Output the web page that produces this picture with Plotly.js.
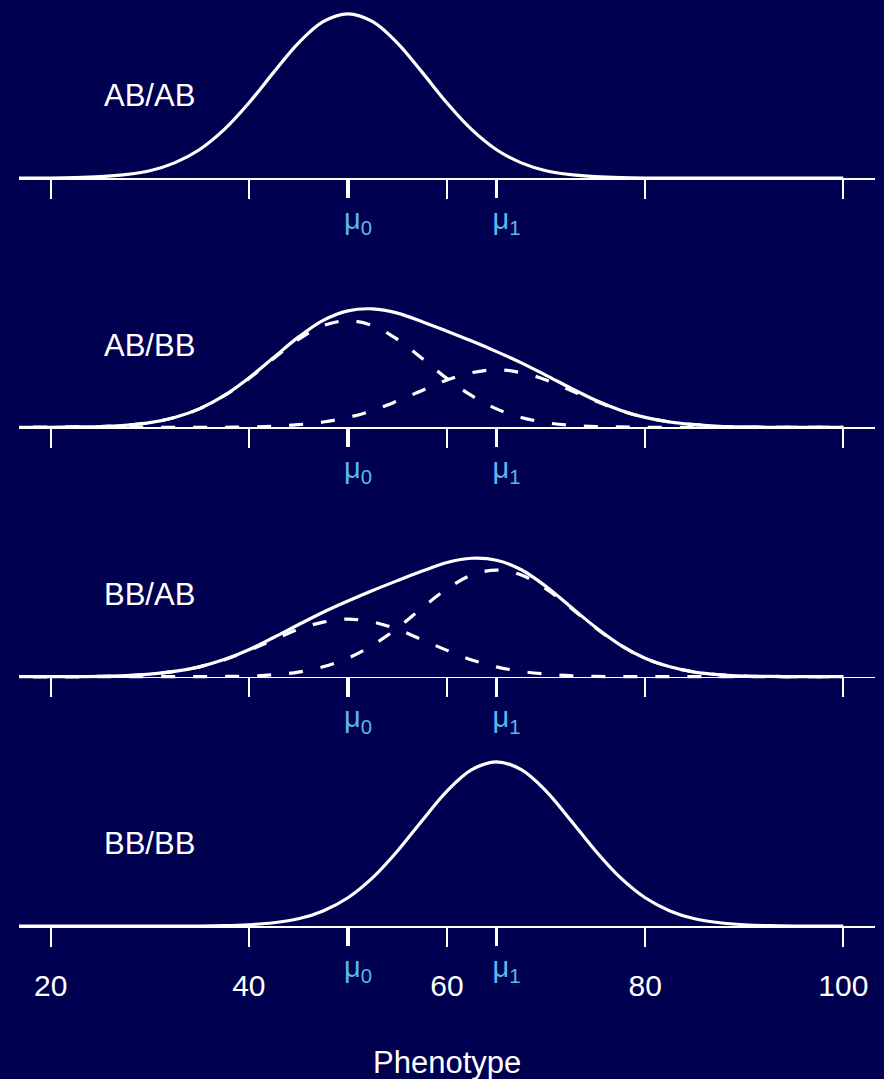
<!DOCTYPE html>
<html><head><meta charset="utf-8">
<script src="https://cdn.plot.ly/plotly-3.0.1.min.js"></script>
<style>html,body{margin:0;padding:0;background:#000050;}</style>
</head><body><div id="chart" style="width:884px;height:1079px;"></div>
<script>
// Phenotype grid (x values)
const phenotype = [15,17.5,20,22.5,25,27.5,30,32.5,35,37.5,40,42.5,45,47.5,50,52.5,55,57.5,60,62.5,65,67.5,70,72.5,75,77.5,80,82.5,85,87.5,90,92.5,95,97.5,100];

// Panel 1: AB/AB density
const densABAB = [0,0,0,0.0001,0.0004,0.0010,0.0022,0.0046,0.0086,0.0147,0.0228,0.0321,0.0410,0.0475,0.0499,0.0475,0.0410,0.0321,0.0228,0.0147,0.0086,0.0046,0.0022,0.0010,0.0004,0.0001,0,0,0,0,0,0,0,0,0];

// Panel 2: AB/BB mixture
const densABBB_mu0 = [0,0,0,0.0001,0.0002,0.0006,0.0014,0.0030,0.0056,0.0096,0.0148,0.0209,0.0267,0.0309,0.0324,0.0309,0.0267,0.0209,0.0148,0.0096,0.0056,0.0030,0.0014,0.0006,0.0002,0.0001,0,0,0,0,0,0,0,0,0];
const densABBB_mu1 = [0,0,0,0,0,0,0,0,0,0,0.0001,0.0003,0.0008,0.0016,0.0030,0.0051,0.0080,0.0112,0.0144,0.0166,0.0175,0.0166,0.0144,0.0112,0.0080,0.0051,0.0030,0.0016,0.0008,0.0003,0.0001,0,0,0,0];
const densABBB = [0,0,0,0.0001,0.0002,0.0006,0.0014,0.0030,0.0056,0.0096,0.0150,0.0212,0.0274,0.0325,0.0354,0.0360,0.0347,0.0321,0.0292,0.0262,0.0230,0.0196,0.0158,0.0119,0.0082,0.0052,0.0030,0.0016,0.0008,0.0003,0.0001,0,0,0,0];

// Panel 3: BB/AB mixture
const densBBAB_mu0 = [0,0,0,0,0.0001,0.0003,0.0008,0.0016,0.0030,0.0051,0.0080,0.0112,0.0144,0.0166,0.0175,0.0166,0.0144,0.0112,0.0080,0.0051,0.0030,0.0016,0.0008,0.0003,0.0001,0,0,0,0,0,0,0,0,0,0];
const densBBAB_mu1 = [0,0,0,0,0,0,0,0,0,0.0001,0.0002,0.0006,0.0014,0.0030,0.0056,0.0096,0.0148,0.0209,0.0267,0.0309,0.0324,0.0309,0.0267,0.0209,0.0148,0.0096,0.0056,0.0030,0.0014,0.0006,0.0002,0.0001,0,0,0];
const densBBAB = [0,0,0,0,0.0001,0.0003,0.0008,0.0016,0.0030,0.0052,0.0082,0.0119,0.0158,0.0196,0.0230,0.0262,0.0292,0.0321,0.0347,0.0360,0.0354,0.0325,0.0274,0.0212,0.0150,0.0096,0.0056,0.0030,0.0014,0.0006,0.0002,0.0001,0,0,0];

// Panel 4: BB/BB density
const densBBBB = [0,0,0,0,0,0,0,0,0,0.0001,0.0004,0.0010,0.0022,0.0046,0.0086,0.0147,0.0228,0.0321,0.0410,0.0475,0.0499,0.0475,0.0410,0.0321,0.0228,0.0147,0.0086,0.0046,0.0022,0.0010,0.0004,0.0001,0,0,0];

// Labels and ticks
const panelLabels = ['AB/AB','AB/BB','BB/AB','BB/BB'];
const tickVals = [20,40,60,80,100];
const tickText = ['20','40','60','80','100'];
const muVals = [50,65];
const muText = ['μ<sub>0</sub>','μ<sub>1</sub>'];
const xTitle = 'Phenotype';

const BG='#000050', FG='#ffffff', MU='#5ab8ee';
const FONT='Liberation Sans, Arial, Helvetica, sans-serif';
const xRange=[16.8,103.2];
const yRange=[-0.0012,0.0529];
const domains=[[0.80435,0.99575],[0.53629,0.72769],[0.26812,0.45952],[0,0.19145]];
const positions=[0.80860,0.54054,0.27237,0.00430];

const panels = [
  {solid: densABAB, dashed: []},
  {solid: densABBB, dashed: [densABBB_mu0, densABBB_mu1]},
  {solid: densBBAB, dashed: [densBBAB_mu0, densBBAB_mu1]},
  {solid: densBBBB, dashed: []}
];

const traces = [];
const layout = {
  width:884, height:1079,
  margin:{l:19,r:9,t:0,b:149},
  paper_bgcolor:BG, plot_bgcolor:BG,
  showlegend:false,
  font:{family:FONT,color:FG},
  annotations:[]
};

panels.forEach((p,i)=>{
  const sfx = i===0 ? '' : String(i+1);
  const xa = 'x'+sfx, ya = 'y'+sfx;
  traces.push({x:phenotype, y:p.solid, xaxis:xa, yaxis:ya, mode:'lines',
    line:{color:FG,width:3.2,shape:'spline'}, hoverinfo:'skip'});
  p.dashed.forEach(d=>{
    traces.push({x:phenotype, y:d, xaxis:xa, yaxis:ya, mode:'lines',
      line:{color:FG,width:3.2,shape:'spline',dash:'14px,18px'}, hoverinfo:'skip'});
  });
  const muId = String(i+5);
  traces.push({x:[], y:[], xaxis:'x'+muId, yaxis:ya, mode:'lines', hoverinfo:'skip'});

  layout['xaxis'+sfx] = {
    domain:[0,1], range:xRange, anchor:'free', position:positions[i],
    showline:true, linecolor:FG, linewidth:1.7,
    ticks:'outside', ticklen:19, tickwidth:1.7, tickcolor:FG,
    tickmode:'array', tickvals:tickVals, ticktext:tickText,
    showticklabels: i===3, tickfont:{size:30,color:FG,family:FONT},
    ticklabelstandoff:13,
    showgrid:false, zeroline:false, fixedrange:true
  };
  layout['xaxis'+muId] = {
    overlaying:xa, anchor:'free', position:positions[i], range:xRange,
    showline:false, ticks:'outside', ticklen:19, tickwidth:3.2, tickcolor:FG,
    tickmode:'array', tickvals:muVals, ticktext:muText,
    tickfont:{size:29,color:MU,family:FONT},
    ticklabelstandoff:-4, ticklabelshift:10,
    showgrid:false, zeroline:false, fixedrange:true
  };
  layout['yaxis'+sfx] = {domain:domains[i], range:yRange, visible:false, fixedrange:true};
  layout.annotations.push({xref:xa, yref:ya, x:30, y:0.025, text:panelLabels[i],
    showarrow:false, xanchor:'center', yanchor:'middle', font:{size:31,color:FG,family:FONT}});
});

layout.annotations.push({xref:'paper', yref:'paper', x:0.5, y:-0.14194, text:xTitle,
  showarrow:false, xanchor:'center', yanchor:'middle', font:{size:31,color:FG,family:FONT}});

Plotly.newPlot('chart', traces, layout, {displayModeBar:false, staticPlot:true});
</script>
</body></html>
